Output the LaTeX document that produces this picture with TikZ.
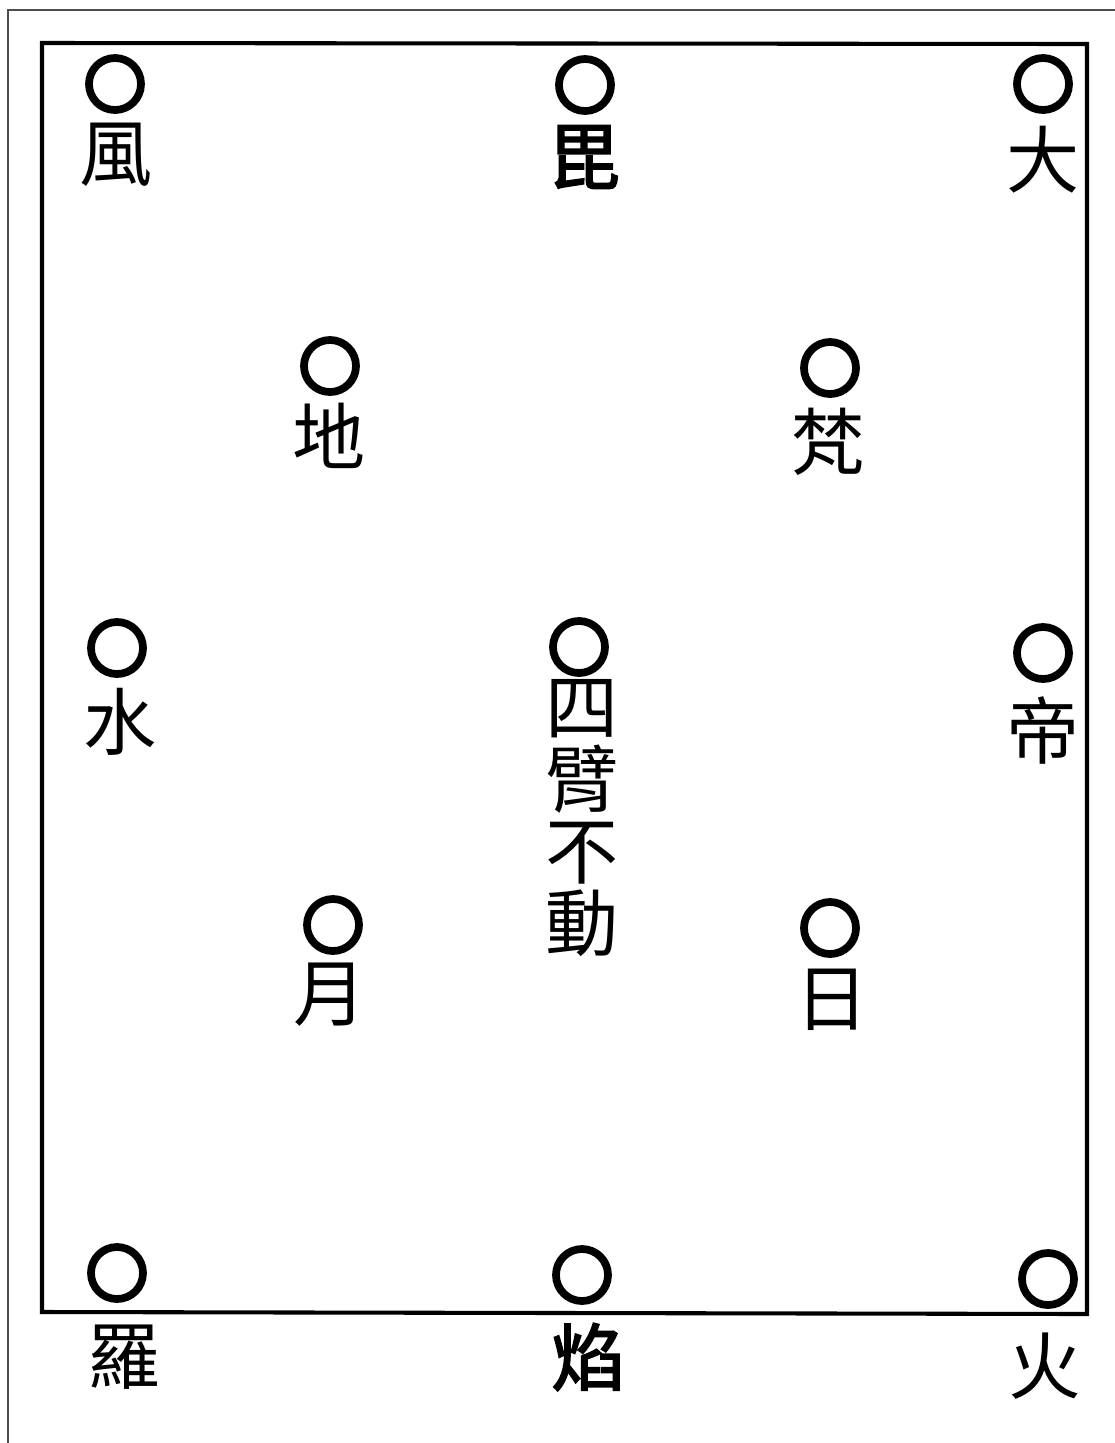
\documentclass[tikz,border=0pt]{standalone}
\usepackage{fontspec}
\newfontfamily\cjk{Noto Sans CJK TC}
\newfontfamily\cjkbold[FakeBold=2.5]{Noto Sans CJK TC}
\usetikzlibrary{positioning}

\begin{document}
\begin{tikzpicture}[
    x=0.025cm, y=-0.025cm,
    ring/.style={circle, draw, line width=5.5pt, minimum size=1.3cm, inner sep=0pt},
    glyph/.style={inner sep=0pt, align=center, font=\cjk\fontsize{52}{51}\selectfont},
    boldglyph/.style={glyph, font=\cjkbold\fontsize{52}{51}\selectfont},
    frame/.style={draw, line width=2.9pt},
    outerframe/.style={draw=black!70, line width=1pt},
]
\useasboundingbox (0,0) rectangle (1114,1443);

% ============ 框 ============
\draw[outerframe] (8,10) rectangle (1116,1446);
\draw[frame] (42,43) -- (1087,44) -- (1087,1314) -- (42,1312) -- cycle;

% ============ 上排 ============
\node[ring] (feng_ring) at (115,84) {};
\node[glyph] (feng) at (116,155) {風};

\node[ring] (pi_ring) at (585,85) {};
\node[boldglyph] (pi) at (584,157) {毘};

\node[ring] (da_ring) at (1043,84) {};
\node[glyph] (da) at (1043,160) {大};

% ============ 第二排 ============
\node[ring] (di_ring) at (330,366) {};
\node[glyph] (di) at (329,436) {地};

\node[ring] (fan_ring) at (830,368) {};
\node[glyph] (fan) at (828,442) {梵};

% ============ 中排 ============
\node[ring] (shui_ring) at (117,648) {};
\node[glyph] (shui) at (120,722) {水};

\node[ring] (center_ring) at (579,647) {};
\node[glyph] (center) at (582,818) {四\\臂\\不\\動};

\node[ring] (di2_ring) at (1043,653) {};
\node[glyph] (di2) at (1043,730) {帝};

% ============ 第四排 ============
\node[ring] (yue_ring) at (333,925) {};
\node[glyph] (yue) at (330,995) {月};

\node[ring] (ri_ring) at (830,928) {};
\node[glyph] (ri) at (832,1000) {日};

% ============ 下排 ============
\node[ring] (luo_ring) at (117,1273) {};
\node[glyph] (luo) at (124,1357) {羅};

\node[ring] (yan_ring) at (582,1275) {};
\node[boldglyph] (yan) at (588,1357) {焰};

\node[ring] (huo_ring) at (1048,1279) {};
\node[glyph] (huo) at (1045,1366) {火};

\end{tikzpicture}
\end{document}
